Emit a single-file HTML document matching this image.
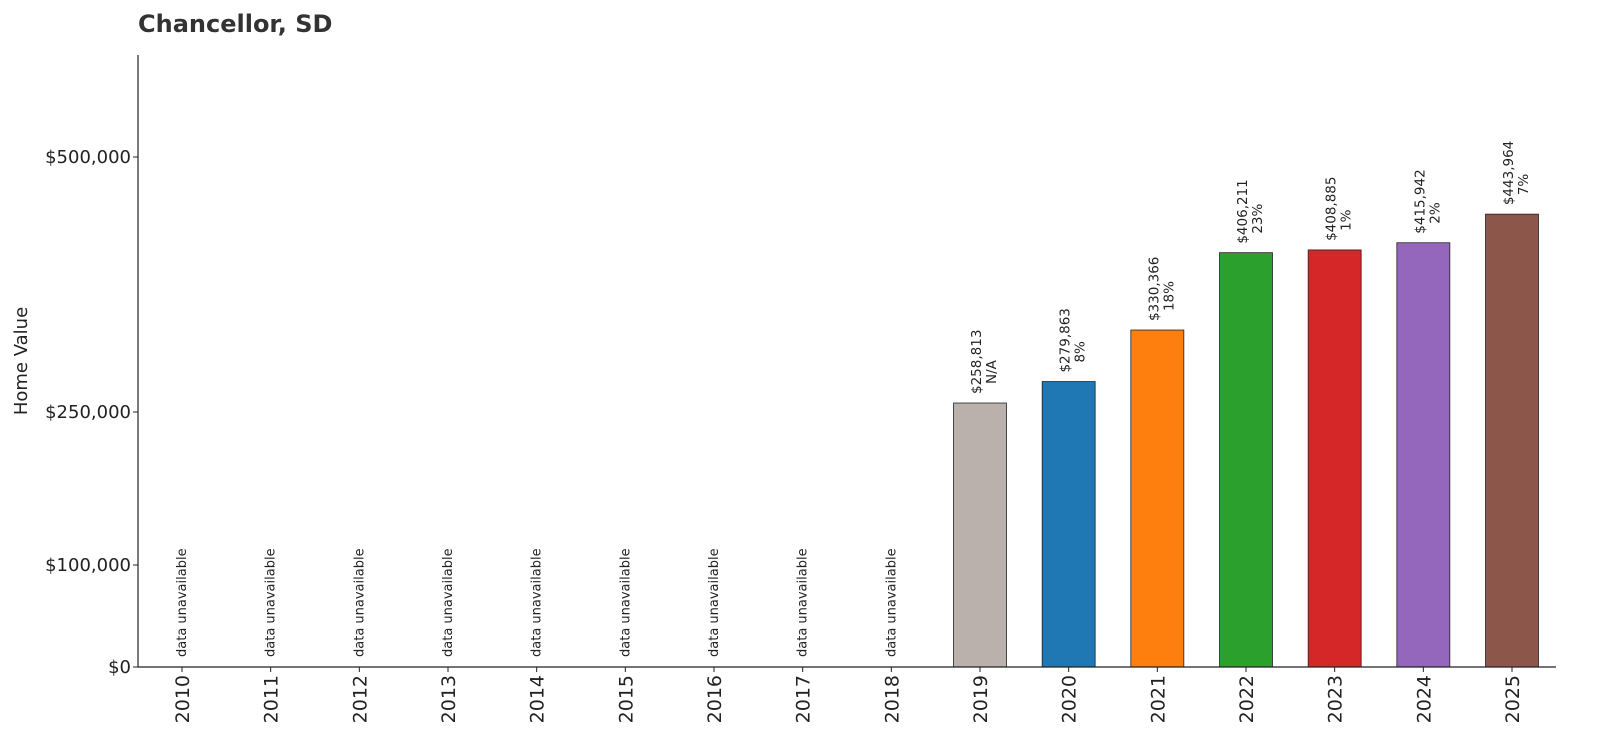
<!DOCTYPE html>
<html><head><meta charset="utf-8"><style>
html,body{margin:0;padding:0;background:#fff;overflow:hidden;width:1600px;height:750px;}
svg{display:block;font-family:"DejaVu Sans","Liberation Sans",sans-serif;}
</style></head><body>
<svg id="chart" width="1600" height="750" viewBox="0 0 1600 750">
<text x="138" y="32" font-size="24" font-weight="bold" fill="#333">Chancellor, SD</text>
<text transform="translate(27,361) rotate(-90)" text-anchor="middle" font-size="18" fill="#222">Home Value</text>
<g id="yaxis"></g>
<g id="xaxis"></g>
<g id="bars"></g>
<line x1="138" y1="55" x2="138" y2="667" stroke="#222" stroke-width="1.2"/>
<line x1="138" y1="667" x2="1556" y2="667" stroke="#222" stroke-width="1.2"/>
</svg>
<script>
const years = ["2010","2011","2012","2013","2014","2015","2016","2017","2018","2019","2020","2021","2022","2023","2024","2025"];
const values = [null,null,null,null,null,null,null,null,null,258813,279863,330366,406211,408885,415942,443964];
const pctLabels = ["","","","","","","","","","N/A","8%","18%","23%","1%","2%","7%"];
const colors = ["","","","","","","","","","#bab0ac","#1f77b4","#ff7f0e","#2ca02c","#d62728","#9467bd","#8c564b"];
const yTicks = [0,100000,250000,500000];
const yTickLabels = ["$0","$100,000","$250,000","$500,000"];
const NS="http://www.w3.org/2000/svg";
function y(v){return 667 - v*510/500000;}
function x(i){return 182 + i*(1512-182)/15;}
function mk(tag,attrs,parent){const e=document.createElementNS(NS,tag);for(const k in attrs)e.setAttribute(k,attrs[k]);parent.appendChild(e);return e;}
const ya=document.getElementById('yaxis'),xa=document.getElementById('xaxis'),bg=document.getElementById('bars');
yTicks.forEach((t,i)=>{
  const l=mk('line',{x1:133,x2:138,y1:y(t),y2:y(t),stroke:'#222'},ya);
  
  
  const tx=mk('text',{x:131,y:y(t)+6,'text-anchor':'end','font-size':18,fill:'#222'},ya);
  
  
  tx.textContent=yTickLabels[i];
});
years.forEach((yr,i)=>{
  const cx=x(i);
  const tk=mk('line',{x1:cx,x2:cx,y1:667,y2:672,stroke:'#222'},xa);
  
  
  const tl=mk('text',{transform:`translate(${cx+7},675) rotate(-90)`,'text-anchor':'end','font-size':19,fill:'#222'},xa);
  
  
  tl.textContent=yr;
  const v=values[i];
  if(v==null){
    const t=mk('text',{transform:`translate(${cx+4},657) rotate(-90)`,'font-size':13,fill:'#222'},bg);
    
    
    t.textContent='data unavailable';
  } else {
    const r=mk('rect',{x:cx-26.5,y:y(v),width:53,height:667-y(v),fill:colors[i],stroke:'#222','stroke-width':0.8},bg);
    
    
    const t=mk('text',{transform:`translate(${cx+1},${y(v)-9}) rotate(-90)`,'font-size':13.5,fill:'#222'},bg);
    
    
    const s1=mk('tspan',{x:0,dy:0},t); s1.textContent='$'+v.toLocaleString('en-US');
    const s2=mk('tspan',{x:10,dy:15},t); s2.textContent=pctLabels[i];
  }
});
</script>
</body></html>
